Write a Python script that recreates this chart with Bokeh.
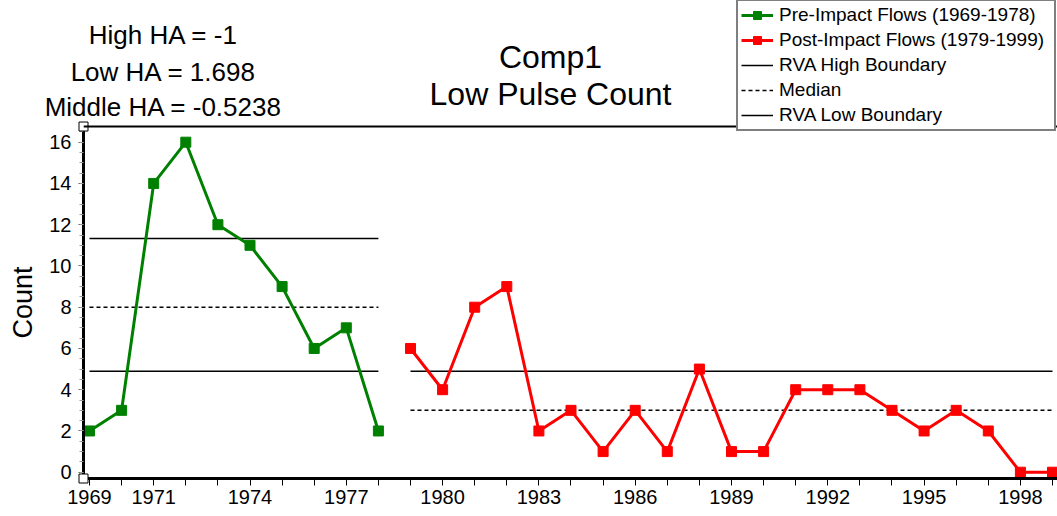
import math
from bokeh.plotting import figure
from bokeh.models import (Range1d, FixedTicker, Legend, LegendItem, Label, Span)
from bokeh.core.properties import value
from bokeh.embed import file_html
from bokeh.resources import INLINE

# ---- data ----
pre_years = [1969, 1970, 1971, 1972, 1973, 1974, 1975, 1976, 1977, 1978]
pre_counts = [2, 3, 14, 16, 12, 11, 9, 6, 7, 2]
post_years = [1979, 1980, 1981, 1982, 1983, 1984, 1985, 1986, 1987, 1988, 1989,
              1990, 1991, 1992, 1993, 1994, 1995, 1996, 1997, 1998, 1999]
post_counts = [6, 4, 8, 9, 2, 3, 1, 3, 1, 5, 1, 1, 4, 4, 4, 3, 2, 3, 2, 0, 0]

pre_rva_high = 11.33
pre_median = 8.0
pre_rva_low = 4.9
post_rva_high = 4.9
post_median = 3.0

pre_span = [1969, 1978]
post_span = [1979, 1999]

x_ticks = list(range(1969, 2000))
x_tick_labels = [1969, 1971, 1974, 1977, 1980, 1983, 1986, 1989, 1992, 1995, 1998]
y_ticks = [0, 2, 4, 6, 8, 10, 12, 14, 16]

title_lines = ["Comp1", "Low Pulse Count"]
ha_lines = ["High HA = -1", "Low HA = 1.698", "Middle HA = -0.5238"]
y_label = "Count"

FONT = "Liberation Sans"
GREEN = "#008000"
RED = "#ff0000"

X0, X1 = 1968.813, 1999.156
Y0, YAX, YTOP = -0.305, 16.76, 22.87

p = figure(width=1057, height=516, output_backend="svg", toolbar_location=None,
           x_range=Range1d(X0, X1), y_range=Range1d(Y0, YTOP),
           min_border_left=83, min_border_right=0, min_border_top=0,
           min_border_bottom=38, background_fill_color="white",
           border_fill_color="white", outline_line_color=None)
p.xgrid.visible = False
p.ygrid.visible = False

# axes
xa = p.xaxis[0]
xa.ticker = FixedTicker(ticks=x_ticks)
xa.major_label_overrides = {y: (str(y) if y in x_tick_labels else "") for y in x_ticks}
xa.axis_line_width = 3
xa.axis_line_color = "black"
xa.major_tick_out = 7
xa.major_tick_in = 0
xa.major_tick_line_color = "black"
xa.minor_tick_line_color = None
xa.major_label_standoff = 4
xa.major_label_text_font = FONT
xa.major_label_text_font_size = "20px"
xa.major_label_text_color = "black"

ya = p.yaxis[0]
ya.bounds = (Y0, YAX)
ya.ticker = FixedTicker(ticks=y_ticks, minor_ticks=[v * 0.5 for v in range(0, 34)])
ya.axis_line_width = 3
ya.axis_line_color = "black"
ya.major_tick_out = 5
ya.major_tick_in = 0
ya.minor_tick_out = 4
ya.minor_tick_in = 0
ya.minor_tick_line_color = "#999999"
ya.major_tick_line_color = "#555555"
ya.major_label_standoff = 7
ya.major_label_text_font = FONT
ya.major_label_text_font_size = "20px"
ya.major_label_text_color = "black"

# reference lines
h1 = p.segment(x0=[pre_span[0]], x1=[pre_span[1]], y0=[pre_rva_high], y1=[pre_rva_high],
               line_color="black", line_width=1.5)
h2 = p.segment(x0=[pre_span[0]], x1=[pre_span[1]], y0=[pre_median], y1=[pre_median],
               line_color="black", line_width=1.5, line_dash="4 3")
h3 = p.segment(x0=[pre_span[0]], x1=[pre_span[1]], y0=[pre_rva_low], y1=[pre_rva_low],
               line_color="black", line_width=1.5)
p.segment(x0=[post_span[0]], x1=[post_span[1]], y0=[post_rva_high], y1=[post_rva_high],
          line_color="black", line_width=1.5)
p.segment(x0=[post_span[0]], x1=[post_span[1]], y0=[post_median], y1=[post_median],
          line_color="black", line_width=1.5, line_dash="4 3")

# data series
pl = p.line(pre_years, pre_counts, line_color=GREEN, line_width=3)
pm = p.scatter(pre_years, pre_counts, marker="square", size=10,
               fill_color=GREEN, line_color=GREEN)
ql = p.line(post_years, post_counts, line_color=RED, line_width=3)
qm = p.scatter(post_years, post_counts, marker="square", size=10,
               fill_color=RED, line_color=RED)

legend = Legend(items=[
    LegendItem(label="Pre-Impact Flows (1969-1978)", renderers=[pl, pm]),
    LegendItem(label="Post-Impact Flows (1979-1999)", renderers=[ql, qm]),
    LegendItem(label="RVA High Boundary", renderers=[h1]),
    LegendItem(label="Median", renderers=[h2]),
    LegendItem(label="RVA Low Boundary", renderers=[h3]),
], location=(653, 347))
legend.label_text_font = FONT
legend.label_text_font_size = "19px"
legend.label_text_color = "black"
legend.label_height = 20
legend.label_width = 272
legend.glyph_height = 20
legend.glyph_width = 32
legend.label_standoff = 6
legend.spacing = 3
legend.padding = 3
legend.margin = 0
legend.border_line_color = "black"
legend.border_line_width = 2
legend.background_fill_color = "white"
legend.background_fill_alpha = 1.0
p.add_layout(legend)

# top frame line (drawn over the legend, as in the original)
p.add_layout(Span(location=YAX, dimension="width", line_color="black", line_width=2,
                  level="overlay"))

# corner markers
p.scatter([X0, X0], [Y0, YAX], marker="square", size=9,
          fill_color="white", line_color="black", line_width=1, level="overlay")

# title
for txt, yy in zip(title_lines, [422, 385]):
    p.add_layout(Label(x=467, y=yy, x_units="screen", y_units="screen", text=txt,
                       text_font=FONT, text_font_size="32px", text_align="center",
                       text_baseline="alphabetic", text_color="black"))

# HA labels (overlay-level text, anchored at the top-left axis corner)
for txt, dy in zip(ha_lines, [-92, -55, -20]):
    p.text(x=[X0], y=[YAX], text=[txt], x_offset=80, y_offset=dy,
           text_font=value(FONT), text_font_size=value("26px"),
           text_align="center", text_baseline="alphabetic",
           text_color="black", level="overlay")

# y-axis title
p.text(x=[X0], y=[Y0], text=[y_label], x_offset=-61, y_offset=-176,
       angle=math.pi / 2, text_font=value(FONT), text_font_size=value("27px"),
       text_align="center", text_baseline="middle",
       text_color="black", level="overlay")

open("out.html", "w").write(file_html(p, INLINE))
